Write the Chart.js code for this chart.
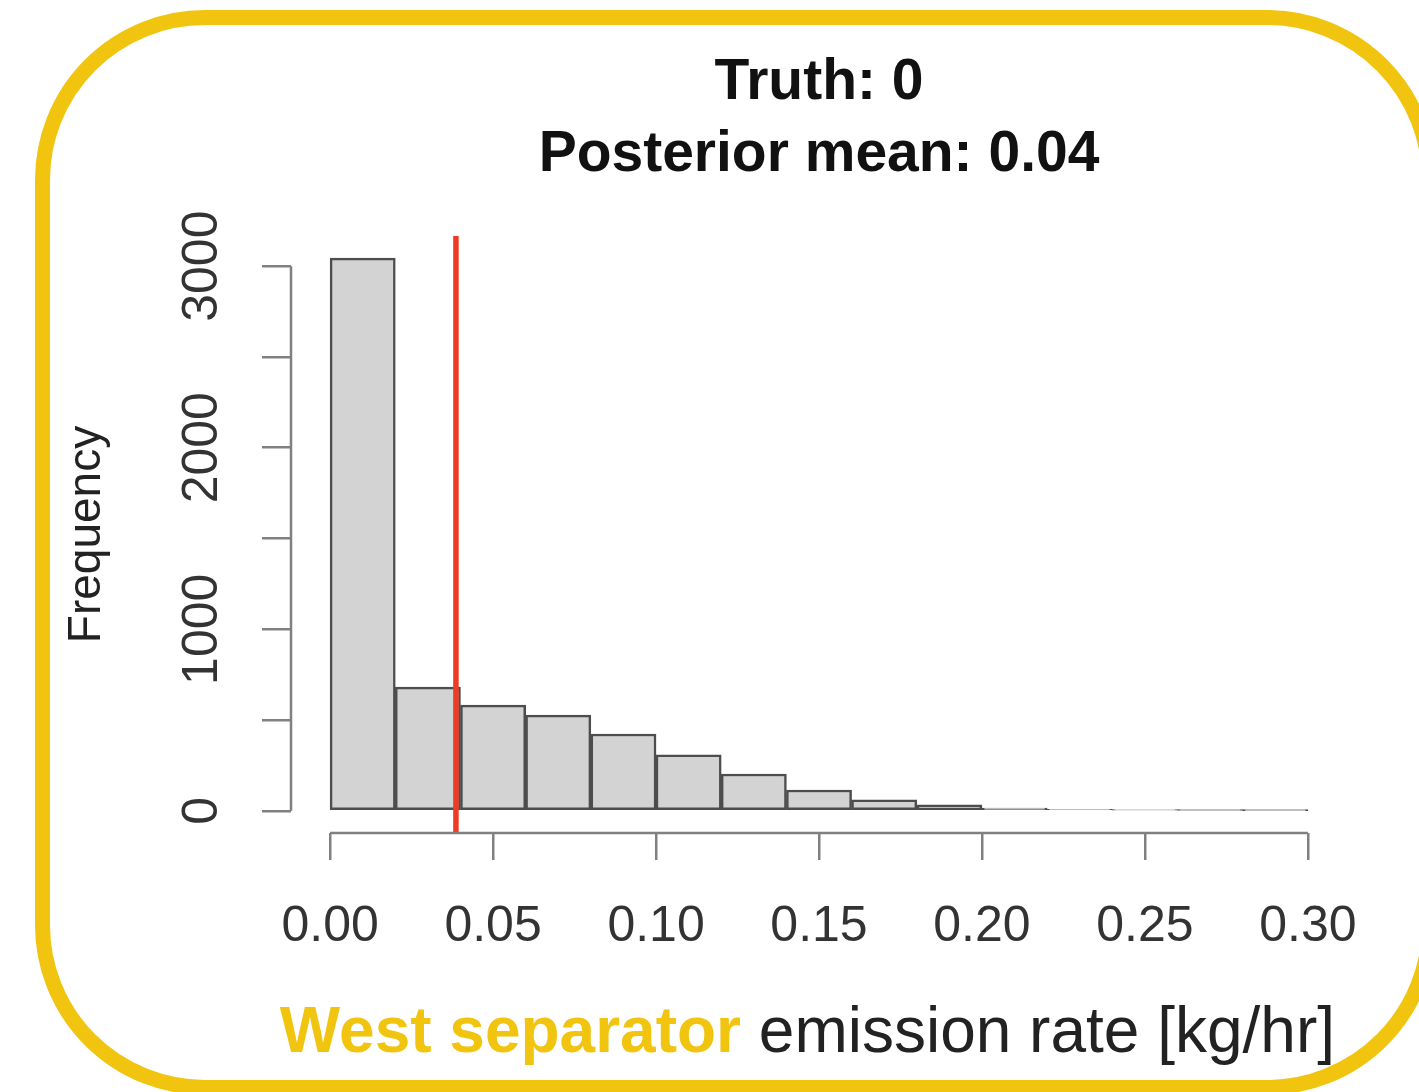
<!DOCTYPE html>
<html lang="en">
<head>
    <meta charset="UTF-8">
    <title>West separator emission rate</title>
    <script src="https://cdn.jsdelivr.net/npm/chart.js"></script>
    <style>
        body { margin: 0; background: #fff; }
        .container { position: relative; width: 1419px; height: 1092px; overflow: hidden; }
        .frame {
            position: absolute; left: 35px; top: 10px; width: 1402px; height: 1085px;
            box-sizing: border-box; border: 15px solid #F1C40F; border-radius: 170px;
        }
        canvas { position: absolute; left: 0; top: 0; }
        .xlabel {
            position: absolute; top: 998px; right: 84px; white-space: nowrap;
            font-family: 'Liberation Sans', Arial, Helvetica, sans-serif;
            font-size: 64px; line-height: 64px; color: #222;
        }
        .xlabel b { color: #F1C40F; }
    </style>
</head>
<body>
    <div class="container">
        <div class="frame"></div>
        <canvas id="hist" width="1419" height="1092"></canvas>
        <div class="xlabel"><b>West separator</b> emission rate [kg/hr]</div>
    </div>
    <script>
        // histogram bins (left edges, width 0.02) and counts
        const binLeft = [0.00, 0.02, 0.04, 0.06, 0.08, 0.10, 0.12, 0.14, 0.16, 0.18, 0.20, 0.22, 0.24, 0.26, 0.28];
        const counts = [3044, 681, 582, 527, 423, 308, 203, 115, 60, 33, 15, 8, 4, 2, 1];
        const binWidth = 0.02;

        const posteriorMean = 0.0386;
        const titleLines = ["Truth: 0", "Posterior mean: 0.04"];

        const xTicks = [0, 0.05, 0.10, 0.15, 0.20, 0.25, 0.30];
        const yTicks = [0, 500, 1000, 1500, 2000, 2500, 3000];
        const yTickLabels = [0, 1000, 2000, 3000];

        // R pads the axis range by 4% on each side
        const xMin = -0.012, xMax = 0.312;
        const yMin = -122, yMax = 3166;

        const FONT = "'Liberation Sans', Arial, Helvetica, sans-serif";
        const axisColor = "#808080";
        Chart.defaults.font.family = FONT;

        const rAxes = {
            id: "rAxes",
            afterDraw(chart) {
                const { ctx, chartArea, scales: { x, y } } = chart;
                ctx.save();
                ctx.strokeStyle = axisColor;
                ctx.lineWidth = 2.5;
                ctx.beginPath();
                ctx.moveTo(x.getPixelForValue(xTicks[0]), chartArea.bottom);
                ctx.lineTo(x.getPixelForValue(xTicks[xTicks.length - 1]), chartArea.bottom);
                ctx.moveTo(chartArea.left, y.getPixelForValue(yTicks[0]));
                ctx.lineTo(chartArea.left, y.getPixelForValue(yTicks[yTicks.length - 1]));
                ctx.stroke();

                ctx.fillStyle = "#333";
                ctx.font = "50px " + FONT;
                ctx.textAlign = "center";
                ctx.textBaseline = "middle";
                yTickLabels.forEach(v => {
                    ctx.save();
                    ctx.translate(chartArea.left - 88, y.getPixelForValue(v));
                    ctx.rotate(-Math.PI / 2);
                    ctx.fillText(String(v), 0, 0);
                    ctx.restore();
                });
                ctx.restore();
            }
        };

        new Chart(document.getElementById("hist"), {
            type: "bar",
            data: {
                datasets: [
                    {
                        type: "line",
                        data: [{ x: posteriorMean, y: yMin }, { x: posteriorMean, y: yMax }],
                        borderColor: "#F03A22",
                        borderWidth: 5.5,
                        pointRadius: 0,
                        order: 0
                    },
                    {
                        data: binLeft.map((b, i) => ({ x: b + binWidth / 2, y: counts[i] })),
                        backgroundColor: "#D3D3D3",
                        borderColor: "#4d4d4d",
                        borderWidth: 2.5,
                        borderSkipped: false,
                        barPercentage: 1,
                        categoryPercentage: 1,
                        order: 1
                    }
                ]
            },
            options: {
                responsive: false,
                animation: false,
                layout: { padding: { top: 20, left: 60, right: 72, bottom: 99 } },
                plugins: {
                    legend: { display: false },
                    tooltip: { enabled: false },
                    title: {
                        display: true,
                        fullSize: false,
                        text: titleLines,
                        color: "#111",
                        font: { size: 57, weight: "bold", lineHeight: 1.25 },
                        padding: { top: 28, bottom: 45.5 }
                    }
                },
                scales: {
                    x: {
                        type: "linear",
                        offset: false,
                        min: xMin,
                        max: xMax,
                        afterBuildTicks: s => { s.ticks = xTicks.map(v => ({ value: v })); },
                        afterFit: s => { s.height = 160; },
                        border: { display: false },
                        grid: { offset: false, drawOnChartArea: false, tickLength: 27, color: axisColor, lineWidth: 2.5 },
                        ticks: {
                            color: "#333",
                            font: { size: 50 },
                            padding: 37,
                            maxRotation: 0,
                            callback: v => v.toFixed(2)
                        }
                    },
                    y: {
                        min: yMin,
                        max: yMax,
                        afterBuildTicks: s => { s.ticks = yTicks.map(v => ({ value: v })); },
                        afterFit: s => { s.width = 231; },
                        border: { display: false },
                        grid: { drawOnChartArea: false, tickLength: 29, color: axisColor, lineWidth: 2.5 },
                        ticks: { display: false },
                        title: {
                            display: true,
                            text: "Frequency",
                            color: "#222",
                            font: { size: 46 },
                            padding: { top: 0, bottom: 0 }
                        }
                    }
                }
            },
            plugins: [rAxes]
        });
    </script>
</body>
</html>
